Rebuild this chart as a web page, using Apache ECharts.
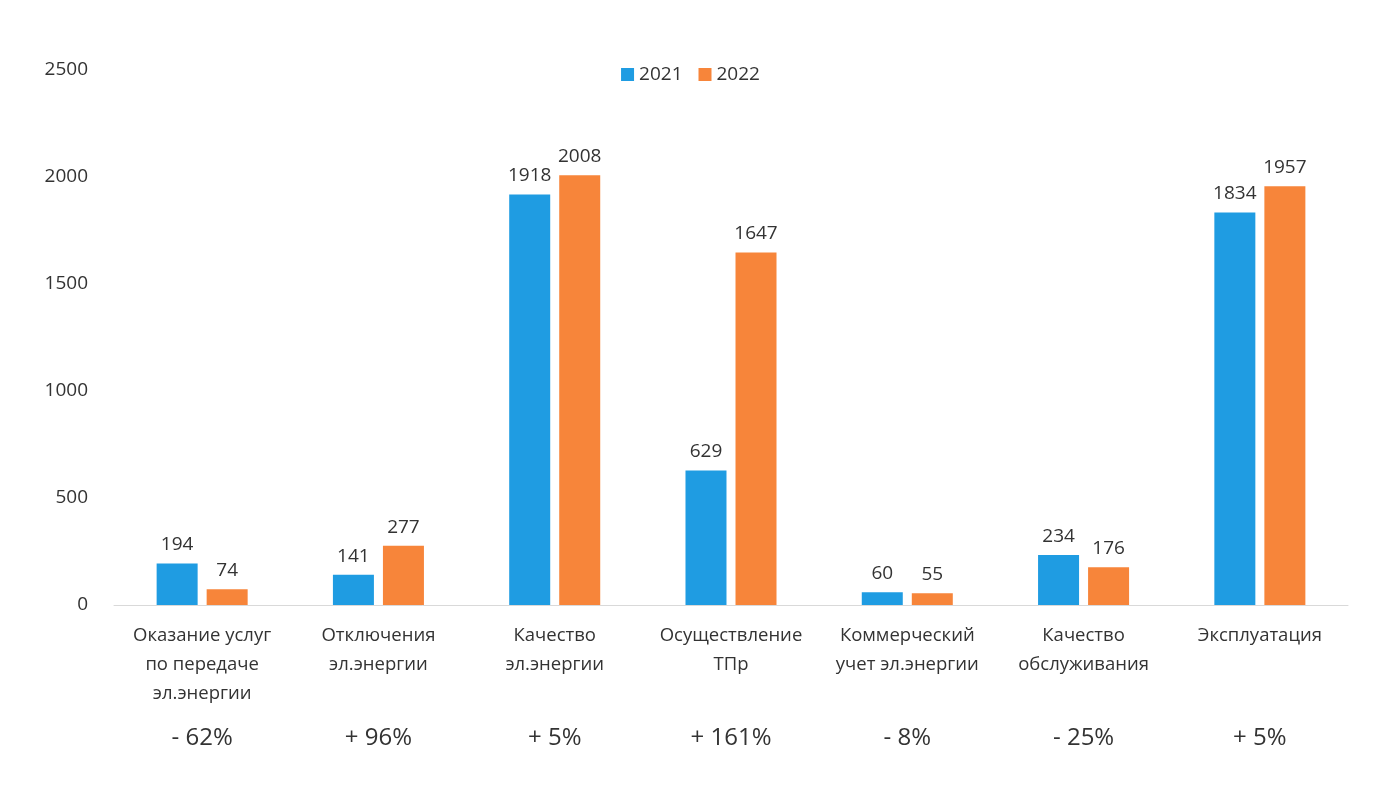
<!DOCTYPE html>
<html>
<head>
<meta charset="utf-8">
<script src="https://cdn.jsdelivr.net/npm/echarts@6/dist/echarts.min.js"></script>
<style>
  html, body { margin: 0; padding: 0; background: #fff; }
  #chart { width: 1381px; height: 788px; }
</style>
</head>
<body>
<div id="chart"></div>
<script>
const categories = [
  "Оказание услуг\nпо передаче\nэл.энергии",
  "Отключения\nэл.энергии",
  "Качество\nэл.энергии",
  "Осуществление\nТПр",
  "Коммерческий\nучет эл.энергии",
  "Качество\nобслуживания",
  "Эксплуатация"
];
const values2021 = [194, 141, 1918, 629, 60, 234, 1834];
const values2022 = [74, 277, 2008, 1647, 55, 176, 1957];
const changes = ["- 62%", "+ 96%", "+ 5%", "+ 161%", "- 8%", "- 25%", "+ 5%"];

const font = "'Open Sans', sans-serif";
const textColor = "#333";

const chart = echarts.init(document.getElementById("chart"));

const barLabel = {
  show: true,
  position: "top",
  distance: 9,
  fontSize: 19,
  fontFamily: font,
  color: textColor
};

chart.setOption({
  animation: false,
  textStyle: { fontFamily: font },
  legend: {
    top: 60,
    left: "center",
    itemWidth: 13,
    itemHeight: 13,
    itemGap: 16,
    icon: "rect",
    textStyle: { fontSize: 19, color: textColor, fontFamily: font },
    data: ["2021", "2022"]
  },
  grid: { left: 114, right: 33, top: 70, bottom: 183 },
  xAxis: [
    {
      type: "category",
      data: categories,
      axisLine: { lineStyle: { color: "#d9d9d9" } },
      axisTick: { show: false },
      axisLabel: {
        interval: 0,
        margin: 16,
        fontSize: 18.5,
        lineHeight: 29,
        color: textColor,
        fontFamily: font
      }
    },
    {
      type: "category",
      data: changes,
      position: "bottom",
      offset: 113,
      axisLine: { show: false },
      axisTick: { show: false },
      axisLabel: {
        interval: 0,
        fontSize: 24,
        color: textColor,
        fontFamily: font
      }
    }
  ],
  yAxis: {
    type: "value",
    min: 0,
    max: 2500,
    interval: 500,
    axisLine: { show: false },
    axisTick: { show: false },
    splitLine: { show: false },
    axisLabel: {
      fontSize: 19,
      color: textColor,
      fontFamily: font,
      margin: 26,
      formatter: (v) => String(v)
    }
  },
  series: [
    {
      name: "2021",
      type: "bar",
      data: values2021,
      barWidth: 41,
      barGap: "22%",
      itemStyle: { color: "#1f9ce2" },
      label: barLabel
    },
    {
      name: "2022",
      type: "bar",
      data: values2022,
      barWidth: 41,
      itemStyle: { color: "#f7853a" },
      label: barLabel
    }
  ]
});
</script>
</body>
</html>
